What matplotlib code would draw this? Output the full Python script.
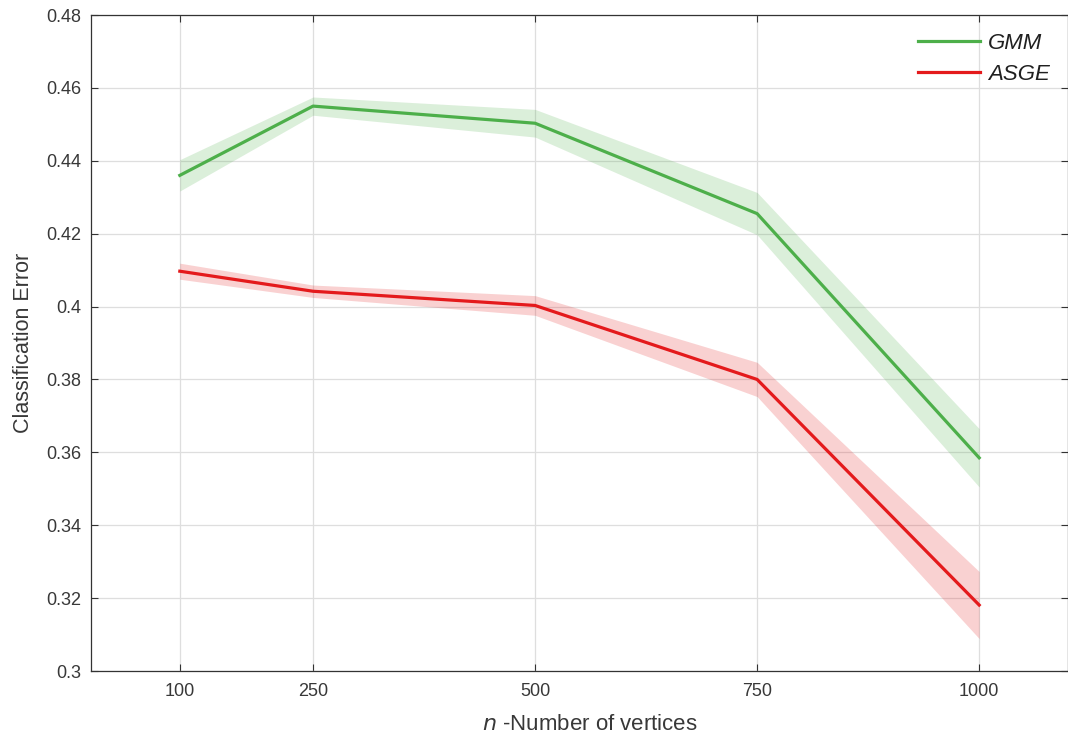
import matplotlib
matplotlib.use("Agg")
import matplotlib.pyplot as plt
import numpy as np

plt.rcParams['font.family'] = ['Liberation Sans', 'DejaVu Sans']

n_vertices = [100, 250, 500, 750, 1000]
gmm_mean = [0.4360, 0.4550, 0.4503, 0.4255, 0.3585]
gmm_spread = [0.0043, 0.0025, 0.0038, 0.0058, 0.0080]
asge_mean = [0.4097, 0.4042, 0.4003, 0.3800, 0.3181]
asge_spread = [0.0022, 0.0017, 0.0027, 0.0047, 0.0092]

x_ticks = [100, 250, 500, 750, 1000]
y_ticks = [0.30, 0.32, 0.34, 0.36, 0.38, 0.40, 0.42, 0.44, 0.46, 0.48]
y_ticklabels = ['0.3', '0.32', '0.34', '0.36', '0.38', '0.4', '0.42', '0.44', '0.46', '0.48']

green = '#4daf4a'
red = '#e41a1c'
text_col = '#383838'

fig = plt.figure(figsize=(10.68, 7.42), dpi=100)
ax = fig.add_axes([91 / 1068, 1 - 671 / 742, (1068 - 91) / 1068, (671 - 15) / 742])

x = np.array(n_vertices)
for mean, spread, col, name in [(gmm_mean, gmm_spread, green, 'GMM'),
                                (asge_mean, asge_spread, red, 'ASGE')]:
    m = np.array(mean)
    s = np.array(spread)
    ax.fill_between(x, m - s, m + s, color=col, alpha=0.2, linewidth=0)
    ax.plot(x, m, color=col, linewidth=2.3, label=name)

ax.set_xlim(0, 1100)
ax.set_ylim(0.30, 0.48)
ax.set_xticks(x_ticks)
ax.set_yticks(y_ticks)
ax.set_yticklabels(y_ticklabels)
ax.grid(True, color='#dedede', linewidth=0.9)
ax.set_axisbelow(True)
ax.tick_params(direction='in', length=5, width=0.8, colors='#333333',
               labelcolor=text_col, labelsize=13, top=True, right=True,
               labeltop=False, labelright=False, pad=7)
ax.tick_params(axis='x', pad=9)
for sp in ax.spines.values():
    sp.set_color('#333333')
    sp.set_linewidth(0.9)

ax.set_xlabel(r'$\it{n}$ -Number of vertices', fontsize=16, color=text_col, labelpad=9)
ax.xaxis.set_label_coords(0.511, -0.065)
ax.set_ylabel('Classification Error', fontsize=15.5, color=text_col, labelpad=9)

leg = ax.legend(loc='upper right', frameon=False, handlelength=2.8,
                prop={'style': 'italic', 'size': 16}, labelspacing=0.45,
                borderaxespad=0.25, handletextpad=0.35,
                bbox_to_anchor=(0.996, 0.995))
for t in leg.get_texts():
    t.set_color('#202020')

fig.savefig('out.png', dpi=100)
